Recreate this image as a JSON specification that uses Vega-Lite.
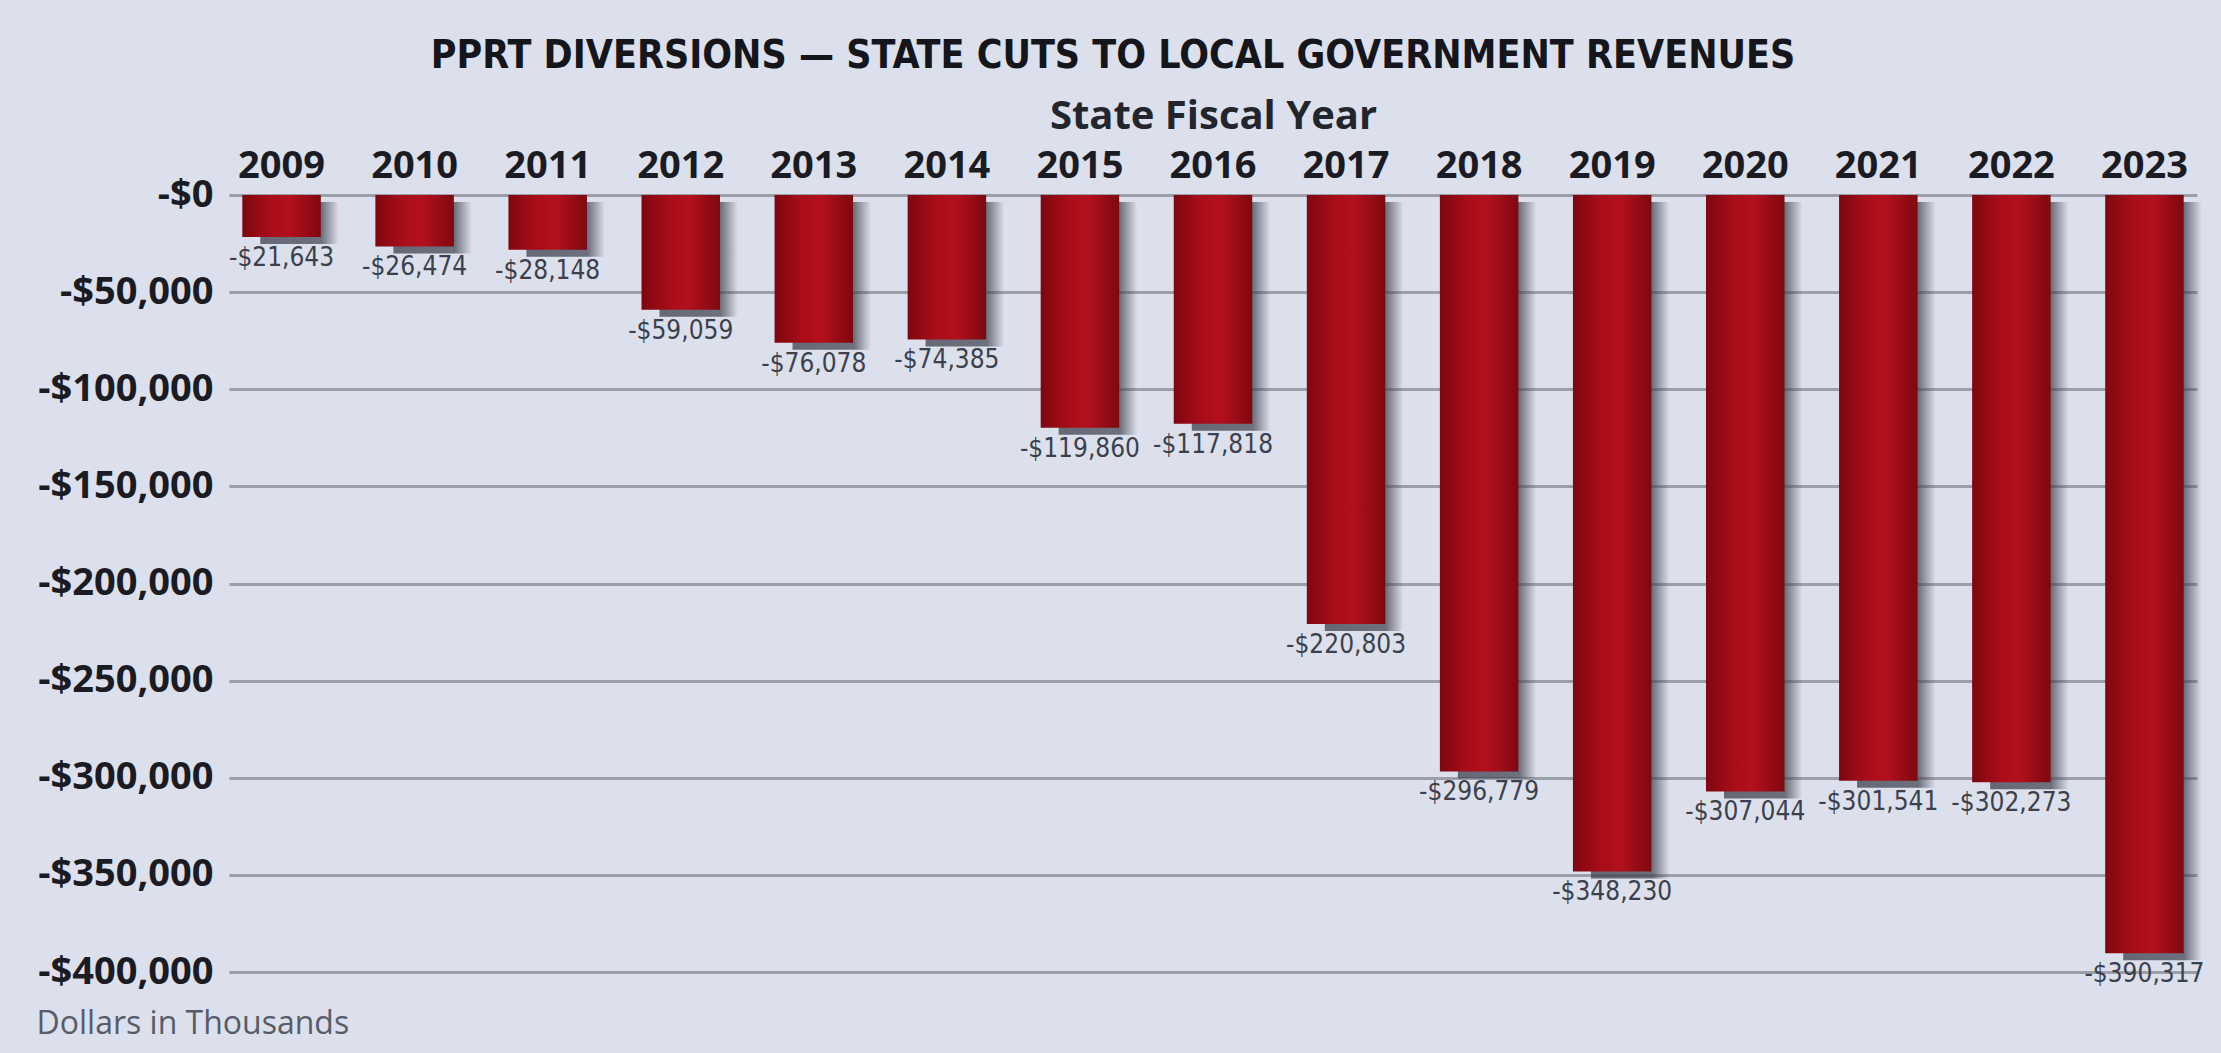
{
  "$schema": "https://vega.github.io/schema/vega-lite/v6.json",
  "width": 1968,
  "height": 777,
  "autosize": {"type": "none"},
  "padding": {"left": 229, "top": 195, "right": 24, "bottom": 81},
  "background": "#dbe0ec",
  "config": {"view": {"stroke": null}},
  "title": {
    "text": "PPRT DIVERSIONS — STATE CUTS TO LOCAL GOVERNMENT REVENUES",
    "font": "DejaVu Sans Condensed",
    "fontWeight": "bold",
    "fontSize": 39,
    "color": "#15151c",
    "anchor": "middle",
    "frame": "group",
    "dx": -100,
    "offset": 20
  },
  "data": {
    "values": [
      {"year": "2009", "value": -21643, "label": "-$21,643"},
      {"year": "2010", "value": -26474, "label": "-$26,474"},
      {"year": "2011", "value": -28148, "label": "-$28,148"},
      {"year": "2012", "value": -59059, "label": "-$59,059"},
      {"year": "2013", "value": -76078, "label": "-$76,078"},
      {"year": "2014", "value": -74385, "label": "-$74,385"},
      {"year": "2015", "value": -119860, "label": "-$119,860"},
      {"year": "2016", "value": -117818, "label": "-$117,818"},
      {"year": "2017", "value": -220803, "label": "-$220,803"},
      {"year": "2018", "value": -296779, "label": "-$296,779"},
      {"year": "2019", "value": -348230, "label": "-$348,230"},
      {"year": "2020", "value": -307044, "label": "-$307,044"},
      {"year": "2021", "value": -301541, "label": "-$301,541"},
      {"year": "2022", "value": -302273, "label": "-$302,273"},
      {"year": "2023", "value": -390317, "label": "-$390,317"}
    ]
  },
  "encoding": {
    "x": {
      "field": "year",
      "type": "ordinal",
      "scale": {"paddingInner": 0.41, "paddingOuter": 0.1},
      "axis": {
        "orient": "top",
        "labelAngle": 0,
        "labelFont": "Open Sans",
        "labelFontWeight": "bold",
        "labelFontSize": 38,
        "labelColor": "#1b1b24",
        "labelBaseline": "alphabetic",
        "labelPadding": 18,
        "ticks": false,
        "tickSize": 0,
        "domain": false,
        "title": "State Fiscal Year",
        "titleFont": "Open Sans",
        "titleFontSize": 40,
        "titleFontWeight": "bold",
        "titleColor": "#23252d",
        "titleBaseline": "alphabetic",
        "titleY": -67
      }
    },
    "y": {
      "field": "value",
      "type": "quantitative",
      "scale": {"domain": [-400000, 0], "nice": false},
      "axis": {
        "values": [0, -50000, -100000, -150000, -200000, -250000, -300000, -350000, -400000],
        "labelExpr": "'-$' + format(abs(datum.value), ',')",
        "labelFont": "Open Sans",
        "labelFontWeight": "bold",
        "labelFontSize": 38,
        "labelColor": "#1b1b24",
        "labelPadding": 16,
        "ticks": false,
        "tickSize": 0,
        "domain": false,
        "grid": true,
        "gridColor": "#9b9fa9",
        "gridWidth": 3,
        "title": "Dollars in Thousands",
        "titleAngle": 0,
        "titleX": -193,
        "titleY": 838,
        "titleAlign": "left",
        "titleBaseline": "alphabetic",
        "titleFont": "Open Sans",
        "titleFontWeight": "normal",
        "titleFontSize": 32,
        "titleColor": "#575c68"
      }
    }
  },
  "layer": [
    {
      "mark": {
        "type": "bar",
        "xOffset": 18,
        "yOffset": 7,
        "fill": {
          "gradient": "linear",
          "x1": 0, "x2": 1, "y1": 0, "y2": 0,
          "stops": [
            {"offset": 0, "color": "rgba(62,64,78,0.75)"},
            {"offset": 0.78, "color": "rgba(62,64,78,0.7)"},
            {"offset": 1, "color": "rgba(62,64,78,0)"}
          ]
        }
      }
    },
    {
      "mark": {
        "type": "bar",
        "fill": {
          "gradient": "linear",
          "x1": 0, "x2": 1, "y1": 0, "y2": 0,
          "stops": [
            {"offset": 0, "color": "#7d0710"},
            {"offset": 0.35, "color": "#a80d18"},
            {"offset": 0.6, "color": "#b3101c"},
            {"offset": 1, "color": "#7e0810"}
          ]
        }
      }
    },
    {
      "mark": {
        "type": "text",
        "baseline": "top",
        "dy": 8,
        "font": "DejaVu Sans Condensed",
        "fontSize": 26,
        "color": "#3b404c"
      },
      "encoding": {"text": {"field": "label"}}
    }
  ]
}
